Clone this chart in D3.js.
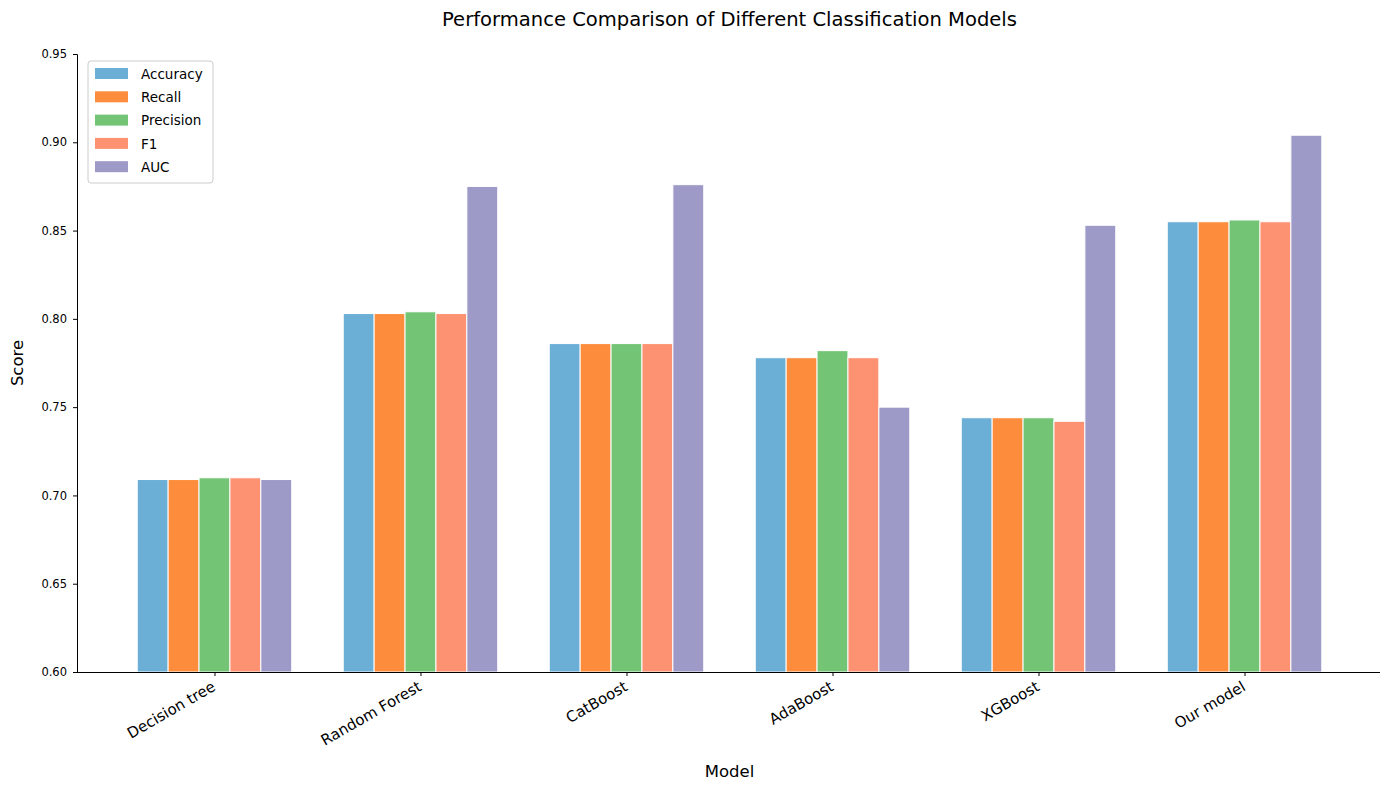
<!DOCTYPE html>
<html><head><meta charset="utf-8">
<script src="https://cdn.jsdelivr.net/npm/d3@7"></script>
<style>body{margin:0;background:#fff;} text{font-family:"DejaVu Sans",sans-serif;}</style>
</head><body>
<svg id="c" width="1390" height="789"></svg>
<script>
const models = ["Decision tree","Random Forest","CatBoost","AdaBoost","XGBoost","Our model"];
const metrics = ["Accuracy","Recall","Precision","F1","AUC"];
const colors = ["#6baed6","#fd8d3c","#74c476","#fc9272","#9e9ac8"];
const accuracy  = [0.709,0.803,0.786,0.778,0.744,0.855];
const recall    = [0.709,0.803,0.786,0.778,0.744,0.855];
const precision = [0.710,0.804,0.786,0.782,0.744,0.856];
const f1        = [0.710,0.803,0.786,0.778,0.742,0.855];
const auc       = [0.709,0.875,0.876,0.750,0.853,0.904];
const yTicks = [0.60,0.65,0.70,0.75,0.80,0.85,0.90,0.95];
const series = [accuracy,recall,precision,f1,auc];

const svg = d3.select("#c");
const L=77,R=1380,T=54,B=672;
const x = d3.scaleLinear().domain([-0.6625,5.6625]).range([L+1,R+1]);
const y = d3.scaleLinear().domain([0.60,0.95]).range([B,T]);
const bw = 0.15;

series.forEach((vals,j)=>{
  svg.append("g").selectAll("rect").data(vals).enter().append("rect")
    .attr("x",(d,i)=>x(i-0.375+j*bw))
    .attr("width",x(bw)-x(0))
    .attr("y",d=>y(d))
    .attr("height",d=>y(0.60)-y(d))
    .attr("fill",colors[j])
    .attr("stroke","#fff").attr("stroke-width",1);
});

// y axis
const ya = svg.append("g").attr("transform",`translate(${L},0)`)
  .call(d3.axisLeft(y).tickValues(yTicks).tickFormat(d3.format(".2f")).tickSize(4).tickPadding(6));
ya.selectAll("text").style("font-family","DejaVu Sans,sans-serif").style("font-size","11.5px").attr("fill","#000");
ya.select(".domain").attr("stroke","#000");
ya.selectAll("line").attr("stroke","#000");

// x axis
const xa = svg.append("g").attr("transform",`translate(0,${B})`)
  .call(d3.axisBottom(x).tickValues(d3.range(models.length)).tickFormat(i=>models[i]).tickSize(4).tickSizeOuter(0));
xa.select(".domain").attr("d",`M${L},0.5H${R}`).attr("stroke","#000");
xa.selectAll("line").attr("stroke","#000");
xa.selectAll("text").style("font-family","DejaVu Sans,sans-serif").style("font-size","15px").attr("fill","#000")
  .attr("text-anchor","end").attr("dy","0.35em")
  .attr("transform","translate(-1,13) rotate(-30)").attr("y",0).attr("x",0);

// titles
svg.append("text").attr("x",729.5).attr("y",26).attr("text-anchor","middle")
  .style("font-size","19px").attr("textLength",575).attr("lengthAdjust","spacingAndGlyphs")
  .text("Performance Comparison of Different Classification Models");
svg.append("text").attr("x",(L+R)/2+1).attr("y",777).attr("text-anchor","middle")
  .style("font-size","16.5px").text("Model");
svg.append("text").attr("transform",`translate(23,${(T+B)/2}) rotate(-90)`).attr("text-anchor","middle")
  .style("font-size","16.5px").text("Score");

// legend
const lg = svg.append("g").attr("transform","translate(88,61)");
lg.append("rect").attr("width",125).attr("height",122).attr("rx",3)
  .attr("fill","#fff").attr("fill-opacity",0.8).attr("stroke","#ccc");
metrics.forEach((m,j)=>{
  lg.append("rect").attr("x",7).attr("y",7+j*23.3).attr("width",33).attr("height",11).attr("fill",colors[j]);
  lg.append("text").attr("x",53).attr("y",13+j*23.3).attr("dy","0.35em").style("font-size","13.5px").text(m);
});
</script>
</body></html>
